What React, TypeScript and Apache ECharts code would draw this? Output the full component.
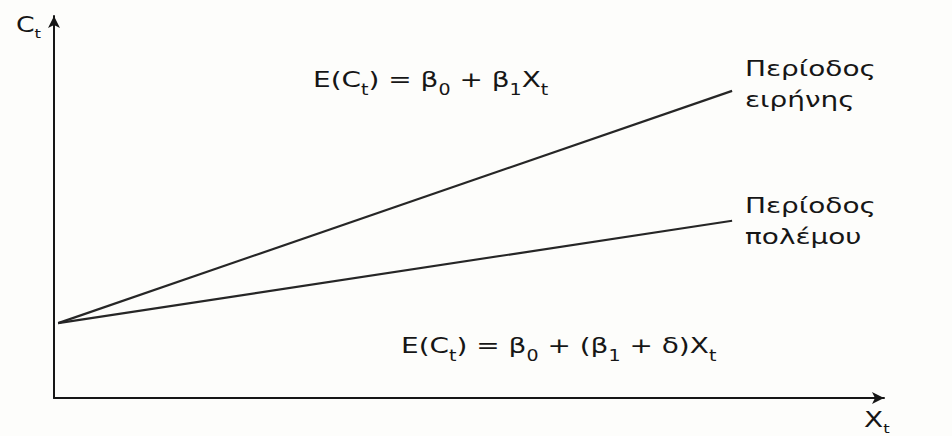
import React, { useEffect, useRef } from "react";
import * as echarts from "echarts";

// Data (arbitrary units on a 0–100 scale)
const xRange = [0, 100];
const yRange = [0, 100];
const xPoints = [0.5, 81.7];
const peaceValues = [19.6, 80.4];
const warValues = [19.6, 46.4];

const peaceLabel = ["Περίοδος", "ειρήνης"];
const warLabel = ["Περίοδος", "πολέμου"];
const yAxisName = "{n|C}{s|t}";
const xAxisName = "{n|X}{s|t}";
const peaceEquation = "{n|E(C}{s|t}{n|) = β}{s|0}{n| + β}{s|1}{n|X}{s|t}";
const warEquation = "{n|E(C}{s|t}{n|) = β}{s|0}{n| + (β}{s|1}{n| + δ)X}{s|t}";

const FONT = "'DejaVu Sans', 'Noto Sans', sans-serif";
const INK = "#161616";
const STRETCH = 1.27;

function richStyles(size: number, subSize: number, lh: number, drop: number) {
  return {
    n: { fontSize: size, fontFamily: FONT, fill: INK, lineHeight: lh },
    s: { fontSize: subSize, fontFamily: FONT, fill: INK, lineHeight: lh, padding: [drop, 0, 0, 0] },
  };
}

export default function App() {
  const ref = useRef<HTMLDivElement>(null);

  useEffect(() => {
    if (!ref.current) return;
    const chart = echarts.init(ref.current, null, { renderer: "svg" });

    const axisCommon = {
      type: "value" as const,
      axisLine: {
        show: true,
        symbol: ["none", "arrow"],
        symbolSize: [9, 12],
        lineStyle: { color: INK, width: 2 },
      },
      axisTick: { show: false },
      axisLabel: { show: false },
      splitLine: { show: false },
    };

    chart.setOption({
      animation: false,
      backgroundColor: "#fdfdfb",
      grid: { left: 54, top: 16, width: 830, height: 382 },
      xAxis: { ...axisCommon, min: xRange[0], max: xRange[1] },
      yAxis: { ...axisCommon, min: yRange[0], max: yRange[1] },
      series: [
        {
          name: "peace",
          type: "line",
          data: xPoints.map((x, i) => [x, peaceValues[i]]),
          showSymbol: false,
          lineStyle: { color: "#262626", width: 2.2 },
        },
        {
          name: "war",
          type: "line",
          data: xPoints.map((x, i) => [x, warValues[i]]),
          showSymbol: false,
          lineStyle: { color: "#262626", width: 2.2 },
        },
      ],
      graphic: [
        {
          type: "text",
          x: 16,
          y: 25,
          scaleX: STRETCH,
          style: {
            text: yAxisName,
            rich: richStyles(21, 13, 26, 18),
            verticalAlign: "middle",
            align: "left",
          },
        },
        {
          type: "text",
          x: 864,
          y: 420,
          scaleX: STRETCH,
          style: {
            text: xAxisName,
            rich: richStyles(22, 13, 26, 18),
            verticalAlign: "middle",
            align: "left",
          },
        },
        {
          type: "text",
          x: 313,
          y: 80,
          scaleX: STRETCH,
          style: {
            text: peaceEquation,
            rich: richStyles(22, 15, 28, 19),
            verticalAlign: "middle",
            align: "left",
          },
        },
        {
          type: "text",
          x: 401,
          y: 346,
          scaleX: STRETCH,
          style: {
            text: warEquation,
            rich: richStyles(22, 15, 28, 19),
            verticalAlign: "middle",
            align: "left",
          },
        },
        {
          type: "text",
          x: 745,
          y: 84,
          scaleX: STRETCH,
          style: {
            text: peaceLabel.join("\n"),
            fontSize: 22,
            fontFamily: FONT,
            fill: INK,
            lineHeight: 31,
            verticalAlign: "middle",
            align: "left",
          },
        },
        {
          type: "text",
          x: 745,
          y: 221,
          scaleX: STRETCH,
          style: {
            text: warLabel.join("\n"),
            fontSize: 22,
            fontFamily: FONT,
            fill: INK,
            lineHeight: 31,
            verticalAlign: "middle",
            align: "left",
          },
        },
      ],
    });

    return () => chart.dispose();
  }, []);

  return (
    <div
      ref={ref}
      style={{ position: "absolute", left: 0, top: 0, width: 952, height: 436 }}
    />
  );
}
